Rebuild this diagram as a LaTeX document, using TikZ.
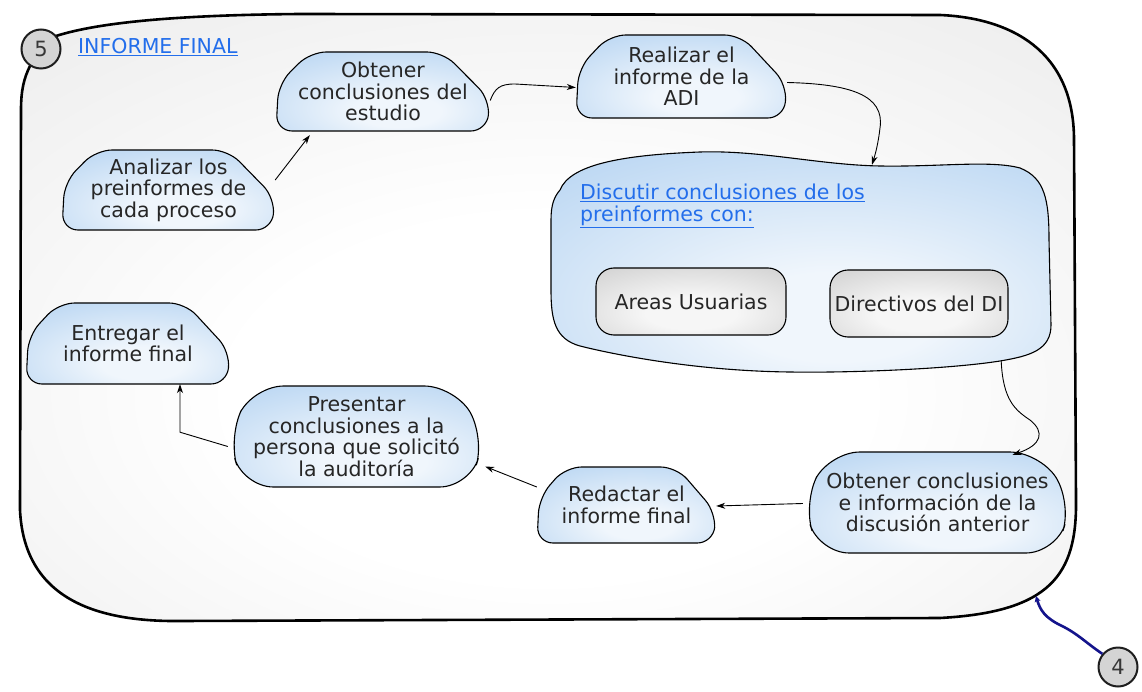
\documentclass[tikz,border=0pt]{standalone}
\usepackage{fontspec}
\setmainfont{DejaVu Sans}
\usetikzlibrary{arrows.meta,calc}

\definecolor{ink}{RGB}{38,38,38}
\definecolor{linkblue}{RGB}{35,110,235}
\definecolor{bgedge}{RGB}{196,196,196}
\definecolor{bgmid}{RGB}{236,236,236}
\definecolor{nodeedge}{RGB}{172,206,240}
\definecolor{nodemid}{RGB}{240,246,252}
\definecolor{greyedge}{RGB}{196,196,196}
\definecolor{greymid}{RGB}{246,246,246}
\definecolor{badgefill}{RGB}{212,212,212}
\definecolor{navy}{RGB}{20,20,140}

\pgfdeclareradialshading{panelglow}{\pgfpoint{0bp}{-8bp}}{color(0bp)=(white); color(15bp)=(white); color(40bp)=(bgmid); color(62bp)=(bgedge); color(90bp)=(bgedge)}
\pgfdeclareradialshading{blueglow}{\pgfpoint{4bp}{-14bp}}{color(0bp)=(nodemid); color(10bp)=(nodemid); color(48bp)=(nodeedge); color(90bp)=(nodeedge)}
\pgfdeclareradialshading{greyglow}{\pgfpoint{0bp}{-10bp}}{color(0bp)=(greymid); color(12bp)=(greymid); color(50bp)=(greyedge); color(90bp)=(greyedge)}

\tikzset{
  panel/.style={draw=black, line width=2.6pt, shade, shading=panelglow},
  bluebox/.style={draw=black, line width=1.1pt, shade, shading=blueglow, rounded corners=16pt},
  blueoval/.style={draw=black, line width=1.1pt, shade, shading=blueglow, rounded corners=30pt},
  greybox/.style={draw=black, line width=1.1pt, shade, shading=greyglow, rounded corners=18pt},
  label/.style={text=ink, align=center, font=\fontsize{20.5}{21.5}\selectfont, inner sep=0pt},
  link/.style={text=linkblue, align=left, font=\fontsize{20.5}{22}\selectfont, inner sep=0pt},
  conn/.style={draw=black, line width=0.9pt, -{Stealth[length=9pt,width=6pt]}},
  badge/.style={circle, draw={rgb,255:red,30;green,30;blue,30}, line width=2pt, fill=badgefill,
    minimum size=39pt, inner sep=0pt, text={rgb,255:red,55;green,55;blue,55}, font=\fontsize{21}{22}\selectfont}
}

% slanted box: rounded top-left, sloping top-right shoulder
\newcommand\slantbox[7]{%
  \path[#1] ({#3+0.16*(#5-#3)},#4) -- ({#5-0.22*(#5-#3)},#4) -- (#5,{#4+0.6*(#6-#4)})
    -- ({#5-0.015*(#5-#3)},#6) -- (#3,#6) -- ({#3+0.012*(#5-#3)},{#4+0.4*(#6-#4)}) -- cycle;
  \node[label, minimum width={#5-#3}, minimum height={#6-#4}] (#2) at ({(#3+#5)/2},{(#4+#6)/2}) {#7};
}
% rounder box with bulging sides
\newcommand\ovalbox[7]{%
  \path[#1] ({#3+0.1*(#5-#3)},#4) -- ({#5-0.12*(#5-#3)},#4) -- (#5,{#4+0.5*(#6-#4)})
    -- ({#5-0.06*(#5-#3)},#6) -- ({#3+0.06*(#5-#3)},#6) -- (#3,{#4+0.5*(#6-#4)}) -- cycle;
  \node[label, minimum width={#5-#3}, minimum height={#6-#4}] (#2) at ({(#3+#5)/2},{(#4+#6)/2}) {#7};
}
% plain rounded box
\newcommand\roundbox[7]{%
  \path[#1] (#3,#4) rectangle (#5,#6);
  \node[label, minimum width={#5-#3}, minimum height={#6-#4}] (#2) at ({(#3+#5)/2},{(#4+#6)/2}) {#7};
}

\begin{document}
\begin{tikzpicture}[x=1pt, y=-1pt]
\useasboundingbox (0,0) rectangle (1142,692);
\fill[white] (0,0) rectangle (1142,692);

% outer panel
\path[panel] (56,36) .. controls (100,22) and (180,15) .. (300,14) -- (940,15)
  .. controls (1010,18) and (1074,50) .. (1074,140) -- (1076,500)
  .. controls (1077,575) and (1050,612) .. (940,618) -- (180,621)
  .. controls (90,622) and (24,595) .. (20,510) -- (21,110)
  .. controls (21,90) and (24,78) .. (30,66) -- cycle;
\coordinate (dock) at (1036,596);

\node[badge] (five) at (41,49) {5};
\node[link, anchor=west] (title) at (78,47) {\underline{INFORME FINAL}};

% discussion group
\path[draw=black, line width=1.1pt, shade, shading=blueglow]
  (560,190) .. controls (570,165) and (620,155) .. (700,152)
  .. controls (760,150) and (820,165) .. (880,166)
  .. controls (940,167) and (990,160) .. (1020,168)
  .. controls (1045,178) and (1049,200) .. (1049,240) -- (1051,325)
  .. controls (1051,350) and (1030,356) .. (1000,361)
  .. controls (950,369) and (850,373) .. (790,372)
  .. controls (700,371) and (620,356) .. (580,346)
  .. controls (555,339) and (551,320) .. (551,290) -- (551,220)
  .. controls (551,205) and (554,197) .. (560,190) -- cycle;
\node[minimum width=498pt, minimum height=220pt, inner sep=0pt] (disc) at (800,262) {};
\node[link, anchor=north west] (disclabel) at (580,184)
  {\underline{Discutir conclusiones de los}\\\underline{preinformes con:}};

\roundbox{greybox}{areas}{596}{268}{786}{335}{Areas Usuarias}
\roundbox{greybox}{dirs}{830}{270}{1008}{337}{Directivos del DI}

% process steps
\slantbox{bluebox}{ana}{62}{150}{275}{230}{Analizar los\\preinformes de\\cada proceso}
\slantbox{bluebox}{obt}{276}{52}{490}{131}{Obtener\\conclusiones del\\estudio}
\slantbox{bluebox}{rea}{576}{35}{787}{118}{Realizar el\\informe de la\\ADI}
\ovalbox{blueoval}{obt2}{803}{452}{1072}{553}{Obtener conclusiones\\e información de la\\discusión anterior}
\slantbox{bluebox}{red}{537}{467}{716}{543}{Redactar el\\informe final}
\ovalbox{blueoval}{pres}{228}{386}{485}{487}{Presentar\\conclusiones a la\\persona que solicitó\\la auditoría}
\slantbox{bluebox}{ent}{26}{303}{230}{384}{Entregar el\\informe final}

% connectors
\draw[conn] ([yshift=10]ana.east) -- ([xshift=34,yshift=-4]obt.south west);
\draw[conn] ([yshift=-9]obt.east) .. controls (495,88) and (500,84) .. (515,84) -- ([yshift=-11]rea.west);
\draw[conn] ([yshift=-6]rea.east) .. controls (850,84) and (885,95) .. (880,128)
  .. controls (878,145) and (875,155) .. ([xshift=72,yshift=-13]disc.north);
\draw[conn] ([xshift=-48,yshift=11]disc.south east) .. controls (1003,400) and (1015,410) .. (1030,420)
  .. controls (1045,432) and (1042,445) .. ([xshift=75,yshift=-3]obt2.north);
\draw[conn] ([yshift=-1]obt2.west) -- ([yshift=-1]red.east);
\draw[conn] ([yshift=18]red.west) -- ([yshift=-30]pres.east);
\draw[conn] ([yshift=-10]pres.west) -- ([xshift=52,yshift=-48]ent.south) -- ([xshift=52]ent.south);

% link to the previous stage
\node[badge] (four) at (1118,667) {4};
\draw[navy, line width=2.6pt, -{Stealth[length=6pt,width=6pt]}] (four.140)
  .. controls (1085,642) and (1078,634) .. (1062,626)
  .. controls (1045,618) and (1040,610) .. (dock);
\end{tikzpicture}
\end{document}
